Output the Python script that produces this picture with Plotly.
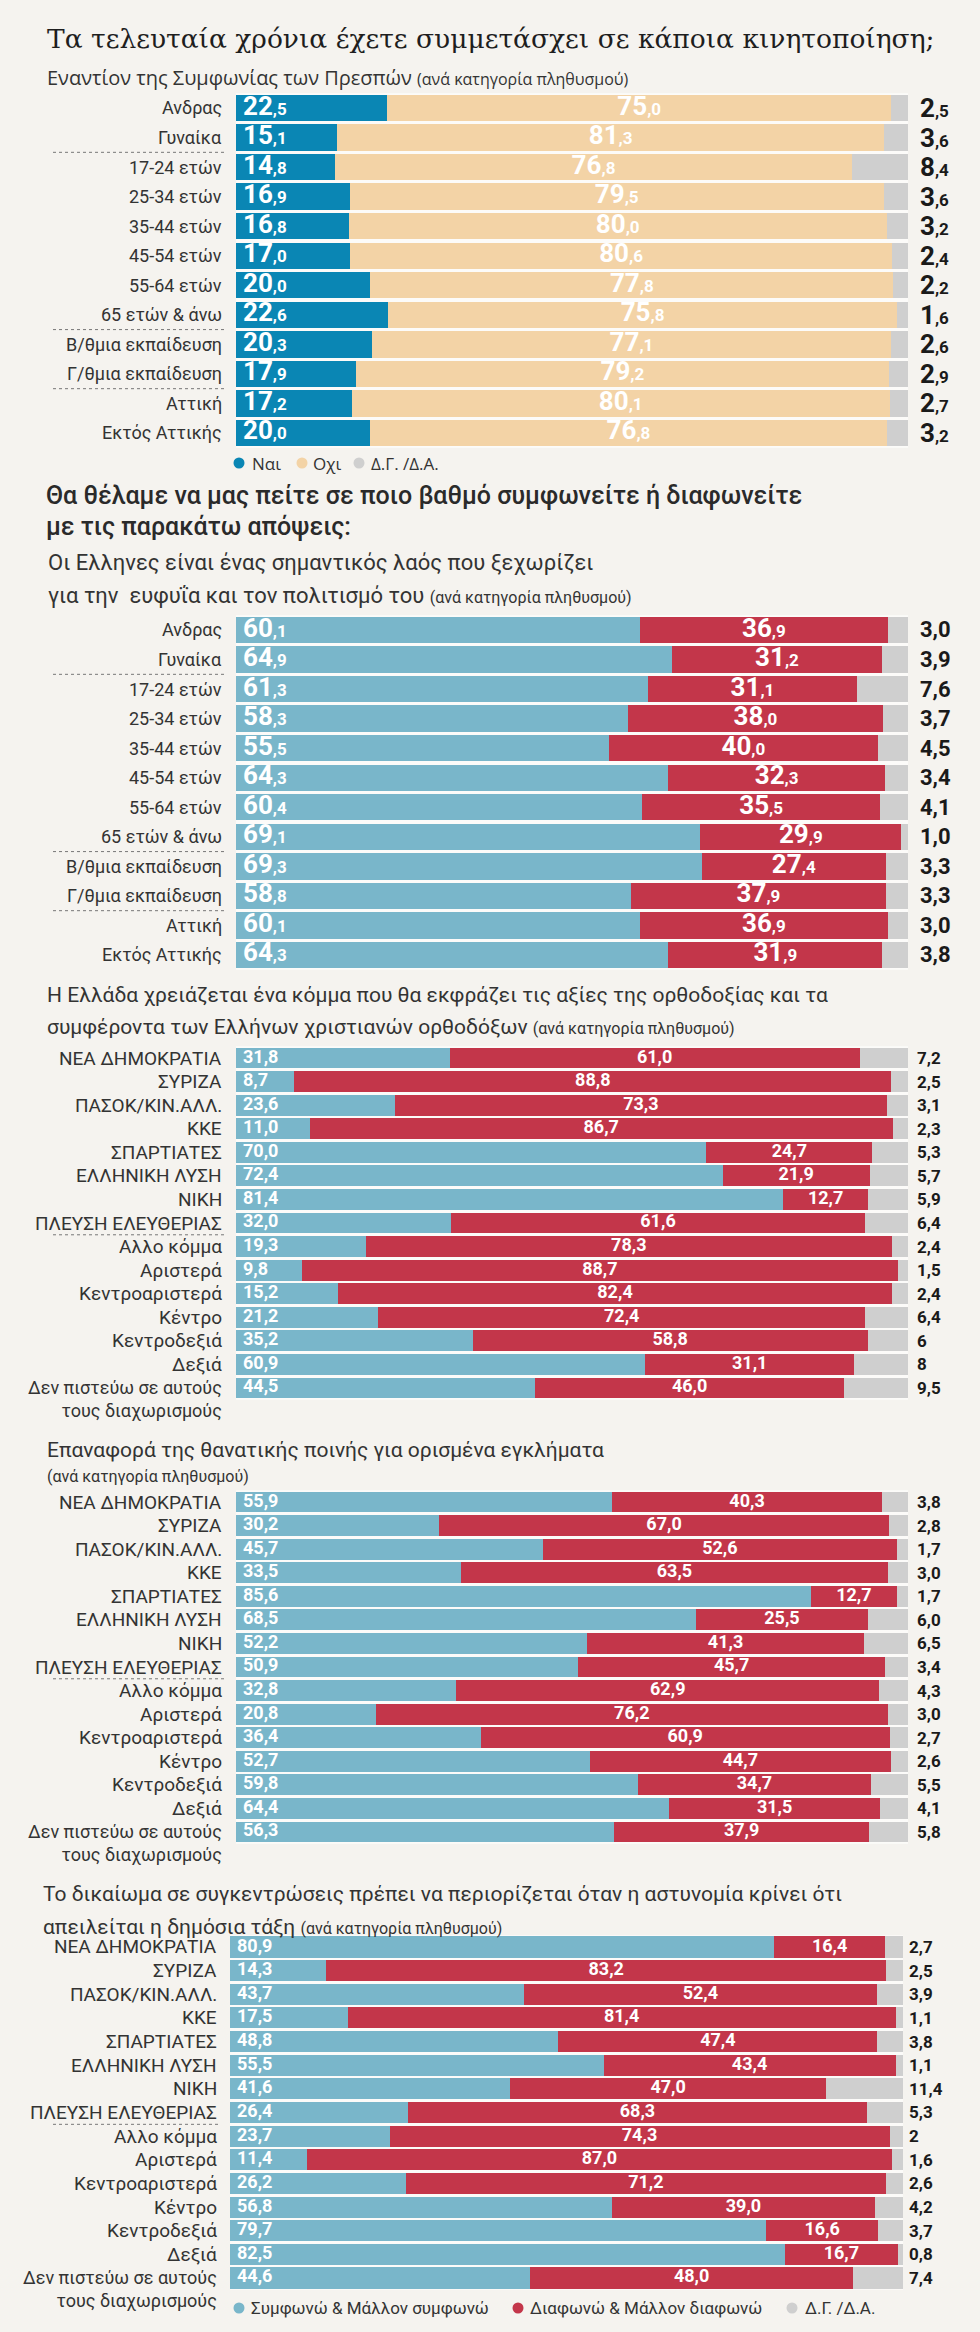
import plotly.graph_objects as go

W, H = 980, 2332

# ---------------- data ----------------
demo_cats = ["Ανδρας", "Γυναίκα", "17-24 ετών", "25-34 ετών", "35-44 ετών", "45-54 ετών",
             "55-64 ετών", "65 ετών & άνω", "Β/θμια εκπαίδευση", "Γ/θμια εκπαίδευση",
             "Αττική", "Εκτός Αττικής"]
party_cats = ["ΝΕΑ ΔΗΜΟΚΡΑΤΙΑ", "ΣΥΡΙΖΑ", "ΠΑΣΟΚ/ΚΙΝ.ΑΛΛ.", "ΚΚΕ", "ΣΠΑΡΤΙΑΤΕΣ", "ΕΛΛΗΝΙΚΗ ΛΥΣΗ",
              "ΝΙΚΗ", "ΠΛΕΥΣΗ ΕΛΕΥΘΕΡΙΑΣ", "Αλλο κόμμα", "Αριστερά", "Κεντροαριστερά", "Κέντρο",
              "Κεντροδεξιά", "Δεξιά", "Δεν πιστεύω σε αυτούς<br>τους διαχωρισμούς"]

# Section 1: Πρέσπες mobilisation (Ναι / Οχι / Δ.Γ.-Δ.Α.)
prespes_yes = [22.5, 15.1, 14.8, 16.9, 16.8, 17.0, 20.0, 22.6, 20.3, 17.9, 17.2, 20.0]
prespes_no = [75.0, 81.3, 76.8, 79.5, 80.0, 80.6, 77.8, 75.8, 77.1, 79.2, 80.1, 76.8]
prespes_dk = [2.5, 3.6, 8.4, 3.6, 3.2, 2.4, 2.2, 1.6, 2.6, 2.9, 2.7, 3.2]

# Section 2: Greeks are an important people
people_agree = [60.1, 64.9, 61.3, 58.3, 55.5, 64.3, 60.4, 69.1, 69.3, 58.8, 60.1, 64.3]
people_disagree = [36.9, 31.2, 31.1, 38.0, 40.0, 32.3, 35.5, 29.9, 27.4, 37.9, 36.9, 31.9]
people_dk = [3.0, 3.9, 7.6, 3.7, 4.5, 3.4, 4.1, 1.0, 3.3, 3.3, 3.0, 3.8]

# Section 3: orthodox party
orth_agree = [31.8, 8.7, 23.6, 11.0, 70.0, 72.4, 81.4, 32.0, 19.3, 9.8, 15.2, 21.2, 35.2, 60.9, 44.5]
orth_disagree = [61.0, 88.8, 73.3, 86.7, 24.7, 21.9, 12.7, 61.6, 78.3, 88.7, 82.4, 72.4, 58.8, 31.1, 46.0]
orth_dk = [7.2, 2.5, 3.1, 2.3, 5.3, 5.7, 5.9, 6.4, 2.4, 1.5, 2.4, 6.4, 6, 8, 9.5]

# Section 4: death penalty
death_agree = [55.9, 30.2, 45.7, 33.5, 85.6, 68.5, 52.2, 50.9, 32.8, 20.8, 36.4, 52.7, 59.8, 64.4, 56.3]
death_disagree = [40.3, 67.0, 52.6, 63.5, 12.7, 25.5, 41.3, 45.7, 62.9, 76.2, 60.9, 44.7, 34.7, 31.5, 37.9]
death_dk = [3.8, 2.8, 1.7, 3.0, 1.7, 6.0, 6.5, 3.4, 4.3, 3.0, 2.7, 2.6, 5.5, 4.1, 5.8]

# Section 5: restricting rallies
rally_agree = [80.9, 14.3, 43.7, 17.5, 48.8, 55.5, 41.6, 26.4, 23.7, 11.4, 26.2, 56.8, 79.7, 82.5, 44.6]
rally_disagree = [16.4, 83.2, 52.4, 81.4, 47.4, 43.4, 47.0, 68.3, 74.3, 87.0, 71.2, 39.0, 16.6, 16.7, 48.0]
rally_dk = [2.7, 2.5, 3.9, 1.1, 3.8, 1.1, 11.4, 5.3, 2, 1.6, 2.6, 4.2, 3.7, 0.8, 7.4]

legend1_labels = ["Ναι", "Οχι", "Δ.Γ. /Δ.Α."]
legend2_labels = ["Συμφωνώ & Μάλλον συμφωνώ", "Διαφωνώ & Μάλλον διαφωνώ", "Δ.Γ. /Δ.Α."]

# ---------------- style ----------------
BG = "#f5f3ef"
GAP = "#fcfbf9"
BLUE_D = "#0a86b4"
BEIGE = "#f3d3a6"
GRAY = "#cfcfcf"
BLUE_L = "#79b6ca"
RED = "#c3364a"
SANS = "Roboto, 'Open Sans', sans-serif"
SANS2 = "'Open Sans', Roboto, sans-serif"
SERIF = "'DejaVu Serif', 'Liberation Serif', serif"
NUM = "Roboto, sans-serif"
TXT = "#2a2a2a"


def fmt(v):
    if isinstance(v, int):
        return str(v)
    return f"{v:.1f}".replace(".", ",")


def fmt_small(v, small):
    i, d = f"{v:.1f}".split(".")
    return f'{i}<span style="font-size:{small}px">,{d}</span>'


sections = [
    dict(cats=demo_cats, vals=(prespes_yes, prespes_no, prespes_dk), colors=(BLUE_D, BEIGE, GRAY),
         x0=236, x1=908, yc0=108, yc1=433, lab_x=224, lab_size=18, seps=[1.5, 7.5, 9.5], sep_x=(53, 225),
         inner=(26, 17), right=(26, 17), right_small=True, right_px=918),
    dict(cats=demo_cats, vals=(people_agree, people_disagree, people_dk), colors=(BLUE_L, RED, GRAY),
         x0=236, x1=908, yc0=630, yc1=955, lab_x=224, lab_size=18, seps=[1.5, 7.5, 9.5], sep_x=(53, 225),
         inner=(26, 17), right=(22, 22), right_small=False, right_px=918),
    dict(cats=party_cats, vals=(orth_agree, orth_disagree, orth_dk), colors=(BLUE_L, RED, GRAY),
         x0=236, x1=908, yc0=1058, yc1=1388, lab_x=224, lab_size=19, seps=[7.5], sep_x=(53, 225),
         inner=(18, 18), right=(17, 17), right_small=False, right_px=915),
    dict(cats=party_cats, vals=(death_agree, death_disagree, death_dk), colors=(BLUE_L, RED, GRAY),
         x0=236, x1=908, yc0=1502, yc1=1832, lab_x=224, lab_size=19, seps=[7.5], sep_x=(53, 225),
         inner=(18, 18), right=(17, 17), right_small=False, right_px=915),
    dict(cats=party_cats, vals=(rally_agree, rally_disagree, rally_dk), colors=(BLUE_L, RED, GRAY),
         x0=230, x1=903, yc0=1947, yc1=2278, lab_x=219, lab_size=19, seps=[7.5], sep_x=(53, 219),
         inner=(18, 18), right=(17, 17), right_small=False, right_px=907),
]

fig = go.Figure()
annotations = []
shapes = []
axes = {}

for idx, s in enumerate(sections):
    k = "" if idx == 0 else str(idx + 1)
    xa, ya = "x" + k, "y" + k
    n = len(s["cats"])
    sp = (s["yc1"] - s["yc0"]) / (n - 1)
    top, bot = s["yc0"] - sp / 2, s["yc1"] + sp / 2
    axes["xaxis" + k] = dict(domain=[s["x0"] / W, s["x1"] / W], range=[0, 100], visible=False,
                             anchor=ya, fixedrange=True)
    axes["yaxis" + k] = dict(domain=[1 - bot / H, 1 - top / H], range=[n - 0.5, -0.5], type="category",
                             categoryorder="array", categoryarray=s["cats"], visible=False,
                             anchor=xa, fixedrange=True)
    a, b, c = s["vals"]
    for vals, col in zip(s["vals"], s["colors"]):
        fig.add_trace(go.Bar(x=vals, y=s["cats"], orientation="h", xaxis=xa, yaxis=ya,
                             marker=dict(color=col, line=dict(width=0)),
                             showlegend=False, hoverinfo="skip"))
    unit = 100.0 / (s["x1"] - s["x0"])
    big, small = s["inner"]
    if big != small:
        ta = [fmt_small(v, small) for v in a]
        tb = [fmt_small(v, small) for v in b]
    else:
        ta = [fmt(v) for v in a]
        tb = [fmt(v) for v in b]
    inner_font = dict(family=NUM, size=big, color="white", weight="bold")
    fig.add_trace(go.Scatter(x=[7 * unit] * n, y=s["cats"], mode="text", text=ta,
                             textposition="middle right", textfont=inner_font, xaxis=xa, yaxis=ya,
                             showlegend=False, hoverinfo="skip"))
    fig.add_trace(go.Scatter(x=[p + q / 2 for p, q in zip(a, b)], y=s["cats"], mode="text", text=tb,
                             textposition="middle center", textfont=inner_font, xaxis=xa, yaxis=ya,
                             showlegend=False, hoverinfo="skip"))
    # "don't know" values to the right of the bar (annotations anchored to the axes)
    rb, rs = s["right"]
    tc = [fmt_small(v, rs) for v in c] if s["right_small"] else [fmt(v) for v in c]
    for cat, t in zip(s["cats"], tc):
        annotations.append(dict(xref=xa, yref=ya, x=100, y=cat, text=t, showarrow=False,
                                xanchor="left", yanchor="middle", xshift=s["right_px"] - s["x1"],
                                font=dict(family=NUM, size=rb, color="#1a1a1a", weight="bold")))
    # category labels
    for cat in s["cats"]:
        two = "<br>" in cat
        annotations.append(dict(xref="paper", yref=ya, x=s["lab_x"] / W, y=cat, text=cat, showarrow=False,
                                xanchor="right", yanchor="top" if two else "middle", align="right",
                                yshift=13 if two else 0,
                                font=dict(family=SANS, size=18, color="#333333")
                                if two else dict(family=SANS, size=s["lab_size"], color="#333333")))
    # dotted separators
    for yv in s["seps"]:
        shapes.append(dict(type="line", xref="paper", yref=ya, x0=s["sep_x"][0] / W, x1=s["sep_x"][1] / W,
                           y0=yv, y1=yv, line=dict(color="#777777", width=1, dash="dot")))


def text_ann(txt, x, y, size, family=SANS, color=TXT, weight="normal"):
    annotations.append(dict(xref="paper", yref="paper", x=x / W, y=1 - y / H, text=txt, showarrow=False,
                            xanchor="left", yanchor="middle", align="left",
                            font=dict(family=family, size=size, color=color, weight=weight)))


SM = '<span style="font-size:16px">(ανά κατηγορία πληθυσμού)</span>'
text_ann("Τα τελευταία χρόνια έχετε συμμετάσχει σε κάποια κινητοποίηση;", 45, 38, 26.5, family=SERIF, color="#1e1e1e")
text_ann("Εναντίον της Συμφωνίας των Πρεσπών " + SM, 45, 77, 20, family=SANS2, color="#333333")
text_ann("Θα θέλαμε να μας πείτε σε ποιο βαθμό συμφωνείτε ή διαφωνείτε", 44, 495, 25, weight=500)
text_ann("με τις παρακάτω απόψεις:", 44, 526, 25, weight=500)
text_ann("Οι Ελληνες είναι ένας σημαντικός λαός που ξεχωρίζει", 46, 563, 22, color="#333333")
text_ann("για την  ευφυΐα και τον πολιτισμό του " + SM, 46, 595, 22, color="#333333")
text_ann("Η Ελλάδα χρειάζεται ένα κόμμα που θα εκφράζει τις αξίες της ορθοδοξίας και τα", 45, 995, 21, color="#333333")
text_ann("συμφέροντα των Ελλήνων χριστιανών ορθοδόξων " + SM, 45, 1027, 21, color="#333333")
text_ann("Επαναφορά της θανατικής ποινής για ορισμένα εγκλήματα", 45, 1450, 21, color="#333333")
text_ann("(ανά κατηγορία πληθυσμού)", 45, 1476, 16, color="#333333")
text_ann("Το δικαίωμα σε συγκεντρώσεις πρέπει να περιορίζεται όταν η αστυνομία κρίνει ότι", 41, 1894, 21, color="#333333")
text_ann("απειλείται η δημόσια τάξη " + SM, 41, 1927, 21, color="#333333")


def legend(labels, colors, dots_x, texts_x, y, r, size, family):
    for lab, col, dx, tx in zip(labels, colors, dots_x, texts_x):
        shapes.append(dict(type="circle", xref="paper", yref="paper", x0=(dx - r) / W, x1=(dx + r) / W,
                           y0=1 - (y + r) / H, y1=1 - (y - r) / H, fillcolor=col, line=dict(width=0)))
        text_ann(lab, tx, y, size, family=family, color="#333333")


legend(legend1_labels, [BLUE_D, BEIGE, GRAY], [239, 302, 359], [250, 311, 369], 463, 5.5, 17, SANS2)
legend(legend2_labels, [BLUE_L, RED, GRAY], [239, 518, 792], [249, 528, 803], 2308, 5.5, 17, SANS)

fig.update_layout(
    width=W, height=H, autosize=False,
    margin=dict(l=0, r=0, t=0, b=0),
    paper_bgcolor=BG, plot_bgcolor=GAP,
    barmode="stack", bargap=0.11,
    showlegend=False, hovermode=False,
    annotations=annotations, shapes=shapes,
    **axes,
)

fig.write_html("out.html")
